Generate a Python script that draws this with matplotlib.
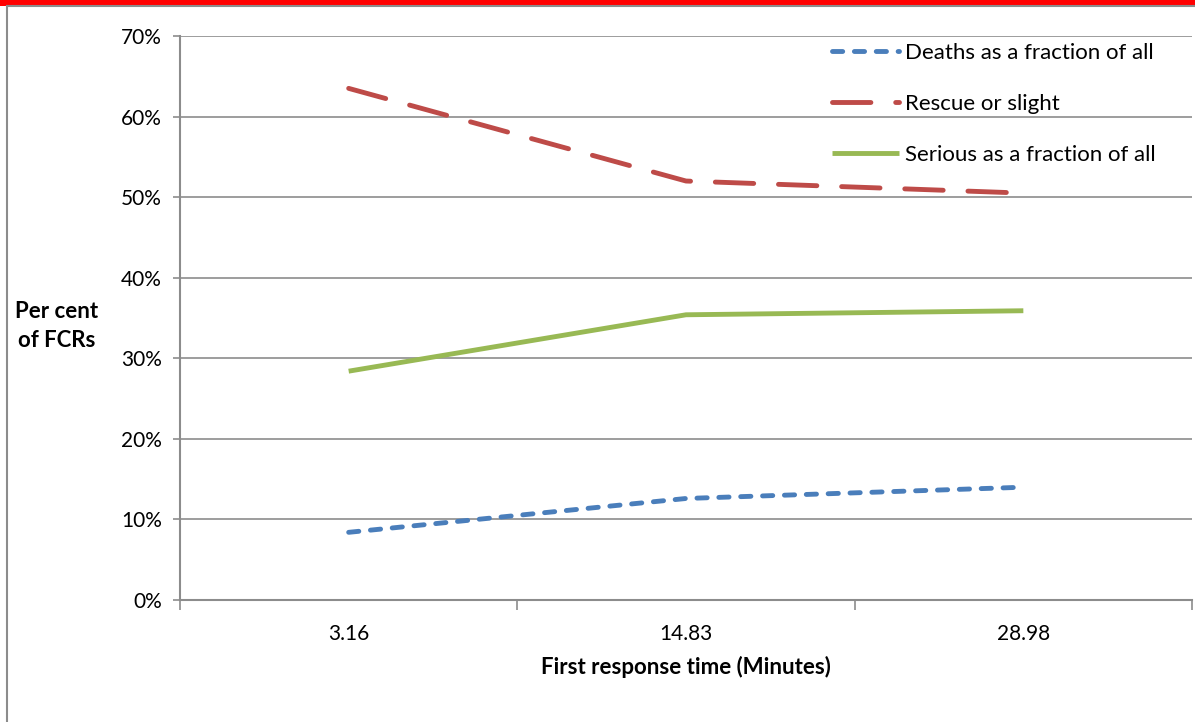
import matplotlib.pyplot as plt
from matplotlib.patches import Rectangle
from matplotlib.ticker import PercentFormatter

# Data
categories = ['3.16', '14.83', '28.98']
deaths = [8.4, 12.6, 14.0]
rescue = [63.5, 52.0, 50.5]
serious = [28.4, 35.4, 35.9]

plt.rcParams['font.family'] = ['Lato', 'DejaVu Sans']

W, H = 1195, 722
fig = plt.figure(figsize=(W / 100, H / 100), dpi=100)

# red strip at the top and grey outer frame
fig.patches.append(Rectangle((0, 1 - 6 / H), 1, 6 / H, transform=fig.transFigure,
                             facecolor='#FF0000', edgecolor='none'))
fig.patches.append(Rectangle((7 / W, -0.01), 1.01, 1 - 6 / H + 0.01, transform=fig.transFigure,
                             facecolor='none', edgecolor='#8C8C8C', lw=1.5))

ax = fig.add_axes([180 / W, (H - 600) / H, (1192 - 180) / W, (600 - 36) / H])
ax.patch.set_alpha(0)

x = range(len(categories))
ax.plot(x, deaths, color='#4A7EBB', lw=3.5, dashes=(2.1, 2.4), dash_capstyle='round',
        label='Deaths as a fraction of all')
ax.plot(x, rescue, color='#BE4B48', lw=3.5, dashes=(7.9, 5.1), dash_capstyle='round',
        label='Rescue or slight')
ax.plot(x, serious, color='#98B954', lw=3.5, solid_capstyle='butt',
        label='Serious as a fraction of all')

ax.set_ylim(0, 70)
ax.set_yticks(range(0, 71, 10))
ax.yaxis.set_major_formatter(PercentFormatter(decimals=0))
ax.set_xlim(-0.5, 2.5)
ax.set_xticks(list(x))
ax.set_xticklabels(categories)
ax.set_xticks([-0.5, 0.5, 1.5, 2.5], minor=True)
ax.tick_params(axis='x', which='major', length=0, pad=17, labelsize=15)
ax.tick_params(axis='x', which='minor', length=7, color='#8C8C8C', width=1.2)
ax.tick_params(axis='y', length=5, color='#8C8C8C', width=1.2, labelsize=15, pad=8)

ax.grid(axis='y', color='#8C8C8C', lw=1.2)
ax.set_axisbelow(True)
for s in ['top', 'right']:
    ax.spines[s].set_visible(False)
for s in ['left', 'bottom']:
    ax.spines[s].set_color('#8C8C8C')
    ax.spines[s].set_linewidth(1.5)

ax.set_xlabel('First response time (Minutes)', fontsize=16, fontweight='bold', labelpad=9)
fig.text(57 / W, 1 - 326 / H, 'Per cent\nof FCRs', fontsize=16, fontweight='bold',
         ha='center', va='center', linespacing=1.5)

ax.legend(loc='upper left', bbox_to_anchor=(812 / W, 1 - 23 / H), bbox_transform=fig.transFigure,
          frameon=False, fontsize=16, handlelength=3.0, handletextpad=0.3, labelspacing=1.4)

fig.savefig('out.png', dpi=100)
